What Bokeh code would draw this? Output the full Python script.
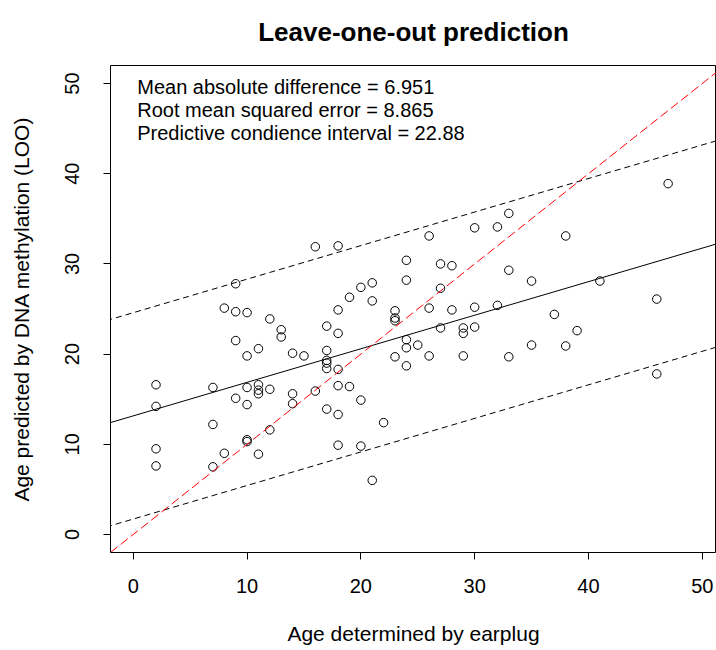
from bokeh.plotting import figure
from bokeh.models import ColumnDataSource, Slope, Label, FixedTicker, Range1d
from bokeh.embed import file_html
from bokeh.resources import INLINE

# ---- data ----
age_earplug = [2, 2, 2, 2,
               7, 7, 7,
               8, 8,
               9, 9, 9, 9,
               10, 10, 10, 10, 10, 10,
               11, 11, 11, 11, 11,
               12, 12, 12,
               13, 13,
               14, 14, 14,
               15,
               16, 16,
               17, 17, 17, 17, 17, 17,
               18, 18, 18, 18, 18, 18, 18,
               19, 19,
               20, 20, 20,
               21, 21, 21,
               22,
               23, 23, 23, 23,
               24, 24, 24, 24, 24,
               25,
               26, 26, 26,
               27, 27, 27,
               28, 28,
               29, 29, 29,
               30, 30, 30,
               32, 32,
               33, 33, 33,
               35, 35,
               37,
               38, 38,
               39,
               41,
               46, 46,
               47]
age_predicted = [16.6, 14.2, 9.5, 7.6,
                 16.3, 12.2, 7.5,
                 25.1, 9.0,
                 27.8, 24.7, 21.5, 15.1,
                 24.6, 19.8, 16.3, 14.4, 10.5, 10.3,
                 20.6, 16.6, 16.0, 15.6, 8.9,
                 23.9, 16.1, 11.6,
                 22.7, 21.9,
                 20.1, 15.6, 14.5,
                 19.8,
                 31.9, 15.9,
                 23.1, 20.4, 19.3, 19.0, 18.4, 13.9,
                 32.0, 24.9, 22.3, 18.3, 16.5, 13.3, 9.9,
                 26.3, 16.4,
                 27.4, 14.9, 9.8,
                 27.9, 25.9, 6.0,
                 12.4,
                 24.8, 24.0, 23.7, 19.7,
                 30.4, 28.2, 21.6, 20.7, 18.7,
                 21.0,
                 33.1, 25.1, 19.8,
                 30.0, 27.3, 22.9,
                 29.8, 24.9,
                 22.9, 22.3, 19.8,
                 34.0, 25.2, 23.0,
                 34.1, 25.4,
                 35.6, 29.3, 19.7,
                 28.1, 21.0,
                 24.4,
                 33.1, 20.9,
                 22.6,
                 28.1,
                 26.1, 17.8,
                 38.9]

fit_intercept = 13.15
fit_slope = 0.372
interval_width = 22.88
identity_slope = 1.0
identity_intercept = 0.0

title_text = "Leave-one-out prediction"
stat_lines = ["Mean absolute difference = 6.951",
              "Root mean squared error = 8.865",
              "Predictive condience interval = 22.88"]
stat_y = [49.65, 47.1, 44.55]
stat_x = 0.35

tick_values = [0, 10, 20, 30, 40, 50]

FONT = "Liberation Sans"

p = figure(width=716, height=650, output_backend="svg", toolbar_location=None,
           x_range=Range1d(-2, 51.25), y_range=Range1d(-2, 52),
           min_border_left=110, min_border_right=0, min_border_top=65,
           min_border_bottom=98, title=title_text)

p.title.text_font = FONT
p.title.text_font_size = "26px"
p.title.text_font_style = "bold"
p.title.text_color = "black"
p.title.align = "center"
p.title.offset = 30
p.title.standoff = 33
p.title.vertical_align = "top"

p.xgrid.visible = False
p.ygrid.visible = False
p.outline_line_color = "black"
p.outline_line_width = 1
p.outline_line_alpha = 1
p.background_fill_color = "white"
p.border_fill_color = "white"

for ax in (p.xaxis[0], p.yaxis[0]):
    ax.ticker = FixedTicker(ticks=tick_values)
    ax.major_tick_out = 7
    ax.major_tick_in = 0
    ax.minor_tick_line_color = None
    ax.axis_line_color = None
    ax.major_tick_line_color = "black"
    ax.major_label_text_font = FONT
    ax.major_label_text_font_size = "20px"
    ax.major_label_text_color = "black"
    ax.axis_label_text_font = FONT
    ax.axis_label_text_font_size = "21px"
    ax.axis_label_text_font_style = "normal"
    ax.axis_label_text_color = "black"

p.xaxis.axis_label = "Age determined by earplug"
p.yaxis.axis_label = "Age predicted by DNA methylation (LOO)"
p.xaxis.major_label_standoff = 19
p.xaxis.axis_label_standoff = 26
p.yaxis.major_label_orientation = "vertical"
p.yaxis.major_label_standoff = 24
p.yaxis.axis_label_standoff = 30

src = ColumnDataSource(dict(x=age_earplug, y=age_predicted))
p.scatter("x", "y", source=src, size=8.5, marker="circle",
          fill_color=None, line_color="black", line_width=1)

p.add_layout(Slope(gradient=fit_slope, y_intercept=fit_intercept,
                   line_color="black", line_width=1))
p.add_layout(Slope(gradient=fit_slope, y_intercept=fit_intercept + interval_width / 2,
                   line_color="black", line_width=1, line_dash="6 4"))
p.add_layout(Slope(gradient=fit_slope, y_intercept=fit_intercept - interval_width / 2,
                   line_color="black", line_width=1, line_dash="6 4"))
p.add_layout(Slope(gradient=identity_slope, y_intercept=identity_intercept,
                   line_color="red", line_width=1, line_dash="9 4"))

for txt, yy in zip(stat_lines, stat_y):
    p.add_layout(Label(x=stat_x, y=yy, text=txt, text_font=FONT,
                       text_font_size="20px", text_color="black",
                       text_baseline="middle", text_align="left"))

open("out.html", "w").write(file_html(p, INLINE))
